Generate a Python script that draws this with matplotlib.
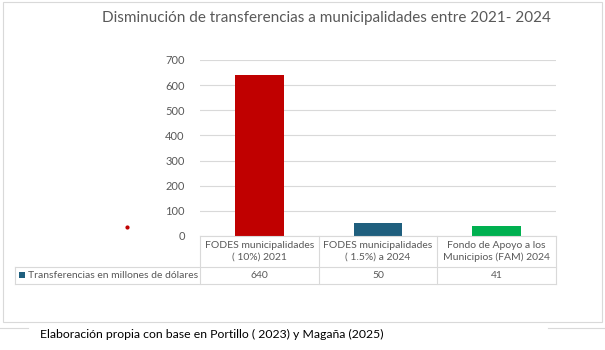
import numpy as np
import matplotlib.pyplot as plt
from matplotlib.patches import Rectangle
from matplotlib.lines import Line2D

categorias = ["FODES municipalidades\n( 10%) 2021",
              "FODES municipalidades\n( 1.5%) a 2024",
              "Fondo de Apoyo a los\nMunicipios (FAM) 2024"]
valores = [640, 50, 41]
colores = ["#C00000", "#1F5F7E", "#00B050"]
serie = "Transferencias en millones de dólares"
titulo = "Disminución de transferencias a municipalidades entre 2021- 2024"
fuente = "Elaboración propia con base en Portillo ( 2023) y Magaña (2025)"

W, H = 605, 350
fig = plt.figure(figsize=(W / 100, H / 100), dpi=100)
plt.rcParams['font.family'] = ['Lato', 'DejaVu Sans']


def fx(x):
    return x / W


def fy(y):
    return 1 - y / H


gris = "#595959"
linea = "#D9D9D9"

# marco del grafico
fig.add_artist(Rectangle((fx(3), fy(322)), fx(599), 320 / H, transform=fig.transFigure,
                         fill=False, ec=linea, lw=0.8))

# area del grafico
x0, x1, ytop, ybot = 200, 556, 60, 236
ax = fig.add_axes([fx(x0), fy(ybot), fx(x1 - x0), (ybot - ytop) / H])
x = np.arange(len(valores))
ax.bar(x, valores, width=0.41, color=colores, zorder=3)
ax.set_xlim(-0.5, len(valores) - 0.5)
ax.set_ylim(0, 700)
ax.set_yticks(np.arange(0, 701, 100))
ax.yaxis.grid(True, color=linea, lw=0.8, zorder=0)
ax.set_xticks([])
for s in ax.spines.values():
    s.set_visible(False)
ax.tick_params(axis='y', length=0, labelsize=8, labelcolor=gris, pad=11)

fig.text(fx(326), fy(18), titulo, ha='center', va='center', fontsize=11, color=gris)

# tabla de datos
r1, r2, r3 = 236, 267, 284
xl = 15
cw = (x1 - x0) / len(valores)
lines = [
    ((x0, x1), (r1, r1)), ((xl, x1), (r2, r2)), ((xl, x1), (r3, r3)),
    ((xl, xl), (r2, r3)),
]
for i in range(len(valores) + 1):
    lines.append(((x0 + i * cw, x0 + i * cw), (r1, r3)))
for xs, ys in lines:
    fig.add_artist(Line2D([fx(v) for v in xs], [fy(v) for v in ys],
                          transform=fig.transFigure, color=linea, lw=0.8))

for i, (c, v) in enumerate(zip(categorias, valores)):
    cx = x0 + (i + 0.5) * cw
    fig.text(fx(cx), fy((r1 + r2) / 2), c, ha='center', va='center', fontsize=7.5,
             color=gris, linespacing=1.4)
    fig.text(fx(cx), fy((r2 + r3) / 2), str(v), ha='center', va='center', fontsize=7.5,
             color=gris)

fig.add_artist(Rectangle((fx(19), fy(278)), fx(6), 6 / H, transform=fig.transFigure,
                         color=colores[1], lw=0))
fig.text(fx(28), fy((r2 + r3) / 2), serie, ha='left', va='center', fontsize=7.5, color=gris)

# punto rojo suelto
fig.add_artist(Line2D([fx(127)], [fy(227)], marker='o', ms=2, color="#C00000",
                      transform=fig.transFigure))

# lineas de fondo y fuente
for xs in [(0, 28), (548, 605)]:
    fig.add_artist(Line2D([fx(xs[0]), fx(xs[1])], [fy(328), fy(328)],
                          transform=fig.transFigure, color=linea, lw=0.8))
fig.text(fx(40), fy(334), fuente, ha='left', va='center', fontsize=8.8, color="black")

fig.savefig("out.png", dpi=100)
